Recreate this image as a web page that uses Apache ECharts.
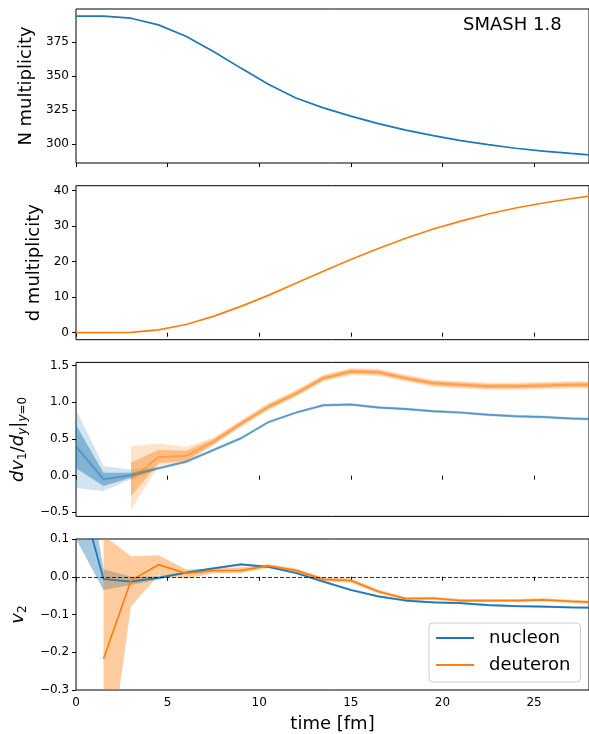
<!DOCTYPE html>
<html><head><meta charset="utf-8">
<script src="https://cdn.jsdelivr.net/npm/echarts@6/dist/echarts.min.js"></script>
<style>html,body{margin:0;padding:0;background:#fff}#c{width:589px;height:734px}</style>
</head><body><div id="c"></div>
<script>
// ---- data ----
const time = [0,1.5,3,4.5,6,7.5,9,10.5,12,13.5,15,16.5,18,19.5,21,22.5,24,25.5,27,28.5];
const xTicks = [0,5,10,15,20,25];

const nMult = [394.4,394.4,392.8,387.9,379.5,368.3,356.0,344.1,334.0,326.7,320.6,315.0,310.3,306.2,302.5,299.5,296.9,294.8,293.1,291.5];
const dMult = [0,0,0.1,0.8,2.3,4.6,7.4,10.5,13.9,17.3,20.6,23.7,26.6,29.2,31.4,33.4,35.1,36.5,37.7,38.8];

const nucV1      = [0.40,-0.05,0.005,0.10,0.19,0.35,0.51,0.73,0.86,0.96,0.97,0.93,0.91,0.88,0.86,0.83,0.81,0.80,0.78,0.77];
const nucV1InLo  = [0.10,-0.14,-0.03,0.09,0.18,0.34,0.50,0.72,0.85,0.95,0.96,0.92,0.90,0.87,0.85,0.82,0.80,0.79,0.77,0.76];
const nucV1InHi  = [0.69,0.04,0.04,0.11,0.20,0.36,0.52,0.74,0.87,0.97,0.98,0.94,0.92,0.89,0.87,0.84,0.82,0.81,0.79,0.78];
const nucV1OutLo = [-0.17,-0.21,-0.05,0.08,0.17,0.33,0.49,0.71,0.84,0.94,0.95,0.91,0.89,0.86,0.84,0.81,0.79,0.78,0.76,0.75];
const nucV1OutHi = [0.90,0.13,0.08,0.12,0.21,0.37,0.53,0.75,0.88,0.98,0.99,0.95,0.93,0.90,0.88,0.85,0.83,0.82,0.80,0.79];

const deuV1      = [null,null,-0.05,0.25,0.27,0.46,0.71,0.94,1.12,1.33,1.42,1.41,1.33,1.26,1.24,1.22,1.22,1.23,1.24,1.24];
const deuV1InLo  = [null,null,-0.28,0.17,0.20,0.43,0.68,0.91,1.09,1.30,1.39,1.38,1.30,1.23,1.21,1.19,1.19,1.20,1.21,1.21];
const deuV1InHi  = [null,null,0.18,0.35,0.34,0.50,0.74,0.97,1.15,1.36,1.45,1.44,1.36,1.29,1.27,1.25,1.25,1.26,1.27,1.27];
const deuV1OutLo = [null,null,-0.47,0.14,0.18,0.41,0.66,0.89,1.07,1.28,1.37,1.36,1.28,1.21,1.19,1.17,1.17,1.18,1.19,1.19];
const deuV1OutHi = [null,null,0.40,0.44,0.39,0.52,0.76,0.99,1.17,1.38,1.47,1.46,1.38,1.31,1.29,1.27,1.27,1.28,1.29,1.29];

const nucV2   = [0.26,-0.006,-0.013,-0.003,0.011,0.022,0.033,0.026,0.010,-0.013,-0.035,-0.052,-0.063,-0.068,-0.070,-0.075,-0.078,-0.079,-0.081,-0.082];
const nucV2Lo = [0.10,-0.035,-0.022,-0.007,0.008,0.019,0.030,0.023,0.007,-0.016,-0.038,-0.055,-0.066,-0.071,-0.073,-0.078,-0.081,-0.082,-0.084,-0.085];
const nucV2Hi = [0.45,0.020,0.000,0.001,0.014,0.025,0.036,0.029,0.013,-0.010,-0.032,-0.049,-0.060,-0.065,-0.067,-0.072,-0.075,-0.076,-0.078,-0.079];

const deuV2   = [null,-0.217,-0.010,0.032,0.009,0.016,0.017,0.029,0.017,-0.007,-0.010,-0.039,-0.058,-0.057,-0.063,-0.063,-0.063,-0.061,-0.065,-0.068];
const deuV2Lo = [null,-0.60,-0.078,0.003,-0.005,0.009,0.010,0.024,0.012,-0.012,-0.016,-0.044,-0.062,-0.061,-0.067,-0.067,-0.067,-0.065,-0.069,-0.072];
const deuV2Hi = [null,0.11,0.054,0.057,0.020,0.022,0.025,0.033,0.022,-0.002,-0.004,-0.034,-0.054,-0.053,-0.059,-0.059,-0.059,-0.057,-0.061,-0.064];

const yTicks1 = [300,325,350,375];
const yTicks2 = [0,10,20,30,40];
const yTicks3 = [-0.5,0,0.5,1.0,1.5];
const yTicks4 = [-0.3,-0.2,-0.1,0,0.1];
const legendNames = ['nucleon','deuteron'];

// ---- helpers ----
const BLUE = '#1f77b4', ORANGE = '#ff7f0e';
const FONT = 'DejaVu Sans';
const pairs = arr => time.map((t,i) => [t, arr[i] === null ? '-' : arr[i]]);
const fmt1 = v => (v < 0 ? '\u2212' : '') + Math.abs(v).toFixed(1);

// Sutherland-Hodgman polygon clip against a rectangle (pixel space)
function clipPoly(pts, x0, y0, x1, y1) {
  const edges = [
    [p => p[0] >= x0, (a,b) => { const t=(x0-a[0])/(b[0]-a[0]); return [x0, a[1]+t*(b[1]-a[1])]; }],
    [p => p[0] <= x1, (a,b) => { const t=(x1-a[0])/(b[0]-a[0]); return [x1, a[1]+t*(b[1]-a[1])]; }],
    [p => p[1] >= y0, (a,b) => { const t=(y0-a[1])/(b[1]-a[1]); return [a[0]+t*(b[0]-a[0]), y0]; }],
    [p => p[1] <= y1, (a,b) => { const t=(y1-a[1])/(b[1]-a[1]); return [a[0]+t*(b[0]-a[0]), y1]; }]
  ];
  let out = pts;
  for (const [inside, inter] of edges) {
    const inp = out; out = [];
    if (!inp.length) break;
    let prev = inp[inp.length-1];
    for (const cur of inp) {
      if (inside(cur)) {
        if (!inside(prev)) out.push(inter(prev, cur));
        out.push(cur);
      } else if (inside(prev)) out.push(inter(prev, cur));
      prev = cur;
    }
  }
  return out;
}

function band(idx, lo, hi, color, z) {
  return {
    type:'custom', xAxisIndex:idx, yAxisIndex:idx, z:z, silent:true,
    data:[[0, 0]],
    renderItem: (params, api) => {
      const top = [], bot = [];
      time.forEach((t,i) => {
        if (lo[i] === null) return;
        top.push(api.coord([t, hi[i]]));
        bot.push(api.coord([t, lo[i]]));
      });
      const cs = params.coordSys;
      const pts = clipPoly(top.concat(bot.reverse()), cs.x, cs.y, cs.x + cs.width, cs.y + cs.height);
      return {type:'polygon', shape:{points:pts}, style:{fill:color, stroke:null}};
    }
  };
}

const tops = [9, 185.7, 362.4, 539];
const grids = tops.map(t => ({left:76, width:514, top:t, height:154, show:true,
  borderColor:'#000', borderWidth:1, backgroundColor:'transparent'}));

const xAxes = tops.map((t,i) => ({
  type:'value', gridIndex:i, min:0, max:28,
  axisLine:{show:false}, splitLine:{show:false},
  axisTick:{show:true, length:4, customValues:xTicks, lineStyle:{color:'#000', width:1}},
  axisLabel:{show:i===3, customValues:xTicks, fontSize:12, color:'#000', fontFamily:FONT, margin:7},
  name: i===3 ? 'time [fm]' : '', nameLocation:'middle', nameGap:25,
  nameTextStyle:{fontSize:18, color:'#000', fontFamily:FONT}
}));

const richBase = {
  i:{fontSize:18, fontStyle:'italic', fontFamily:FONT, color:'#000', verticalAlign:'top', lineHeight:20},
  n:{fontSize:18, fontFamily:FONT, color:'#000', verticalAlign:'top', lineHeight:20},
  s:{fontSize:12, fontFamily:FONT, color:'#000', verticalAlign:'bottom', lineHeight:13, padding:[9,0,0,0]},
  si:{fontSize:12, fontStyle:'italic', fontFamily:FONT, color:'#000', verticalAlign:'bottom', lineHeight:13, padding:[9,0,0,0]}
};

function yAxis(i, min, max, ticks, name, gap, fmt, rich) {
  return {
    type:'value', gridIndex:i, min:min, max:max,
    axisLine:{show:false}, splitLine:{show:false},
    axisTick:{show:true, length:4, customValues:ticks, lineStyle:{color:'#000', width:1}},
    axisLabel:{customValues:ticks, fontSize:12, color:'#000', fontFamily:FONT, margin:7,
      formatter: fmt || (v => String(v))},
    name:name, nameLocation:'middle', nameRotate:90, nameGap:gap,
    nameTextStyle: Object.assign({fontSize:18, color:'#000', fontFamily:FONT}, rich ? {rich:rich} : {})
  };
}

const yAxes = [
  yAxis(0, 286.0, 399.6, yTicks1, 'N multiplicity', 37),
  yAxis(1, -1.97, 41.37, yTicks2, 'd multiplicity', 26),
  yAxis(2, -0.556, 1.545, yTicks3, '{i|dv}{s|1}{n|/}{i|d}{si|y}{n||}{si|y}{s|=0}', 36, fmt1, richBase),
  yAxis(3, -0.3, 0.1, yTicks4, '{i|v}{s|2}', 40, fmt1, richBase)
];

const series = [
  {type:'line', name:'Nmult', xAxisIndex:0, yAxisIndex:0, data:pairs(nMult), symbol:'none',
   lineStyle:{color:BLUE, width:1.7}, itemStyle:{color:BLUE}, z:3},
  {type:'line', name:'dmult', xAxisIndex:1, yAxisIndex:1, data:pairs(dMult), symbol:'none',
   lineStyle:{color:ORANGE, width:1.7}, itemStyle:{color:ORANGE}, z:3},
  band(2, nucV1OutLo, nucV1OutHi, 'rgba(31,119,180,0.2)', 1),
  band(2, nucV1InLo, nucV1InHi, 'rgba(31,119,180,0.45)', 1),
  {type:'line', name:'nv1', xAxisIndex:2, yAxisIndex:2, data:pairs(nucV1), symbol:'none',
   lineStyle:{color:BLUE, width:2, opacity:0.45}, z:2},
  band(2, deuV1OutLo, deuV1OutHi, 'rgba(255,127,14,0.22)', 2),
  band(2, deuV1InLo, deuV1InHi, 'rgba(255,127,14,0.38)', 2),
  {type:'line', name:'dv1', xAxisIndex:2, yAxisIndex:2, data:pairs(deuV1), symbol:'none',
   lineStyle:{color:ORANGE, width:2, opacity:0.45}, z:2},
  band(3, nucV2Lo, nucV2Hi, 'rgba(31,119,180,0.4)', 1),
  band(3, deuV2Lo, deuV2Hi, 'rgba(255,127,14,0.4)', 1),
  {type:'line', name:legendNames[0], xAxisIndex:3, yAxisIndex:3, data:pairs(nucV2), symbol:'none',
   lineStyle:{color:BLUE, width:1.7}, itemStyle:{color:BLUE}, z:3,
   markLine:{silent:true, symbol:'none', label:{show:false},
     lineStyle:{color:'#000', type:[4,2], width:0.8}, data:[{yAxis:0}]}},
  {type:'line', name:legendNames[1], xAxisIndex:3, yAxisIndex:3, data:pairs(deuV2), symbol:'none',
   lineStyle:{color:ORANGE, width:1.7}, itemStyle:{color:ORANGE}, z:3}
];

const chart = echarts.init(document.getElementById('c'), null, {renderer:'canvas'});
chart.setOption({
  animation:false,
  backgroundColor:'#fff',
  title:{text:'SMASH 1.8', left:463, top:16, padding:0,
    textStyle:{fontSize:18, fontWeight:'normal', color:'#000', fontFamily:FONT}},
  grid:grids, xAxis:xAxes, yAxis:yAxes, series:series,
  legend:{data:legendNames, orient:'vertical', left:429, top:623, icon:'rect',
    itemWidth:38, itemHeight:2, itemGap:7,
    padding:[5,10,7,7], borderColor:'#cccccc', borderWidth:1, borderRadius:4,
    backgroundColor:'rgba(255,255,255,0.8)',
    textStyle:{fontSize:18, color:'#000', fontFamily:FONT, lineHeight:20, padding:[0,0,0,10]}}
});
</script></body></html>
